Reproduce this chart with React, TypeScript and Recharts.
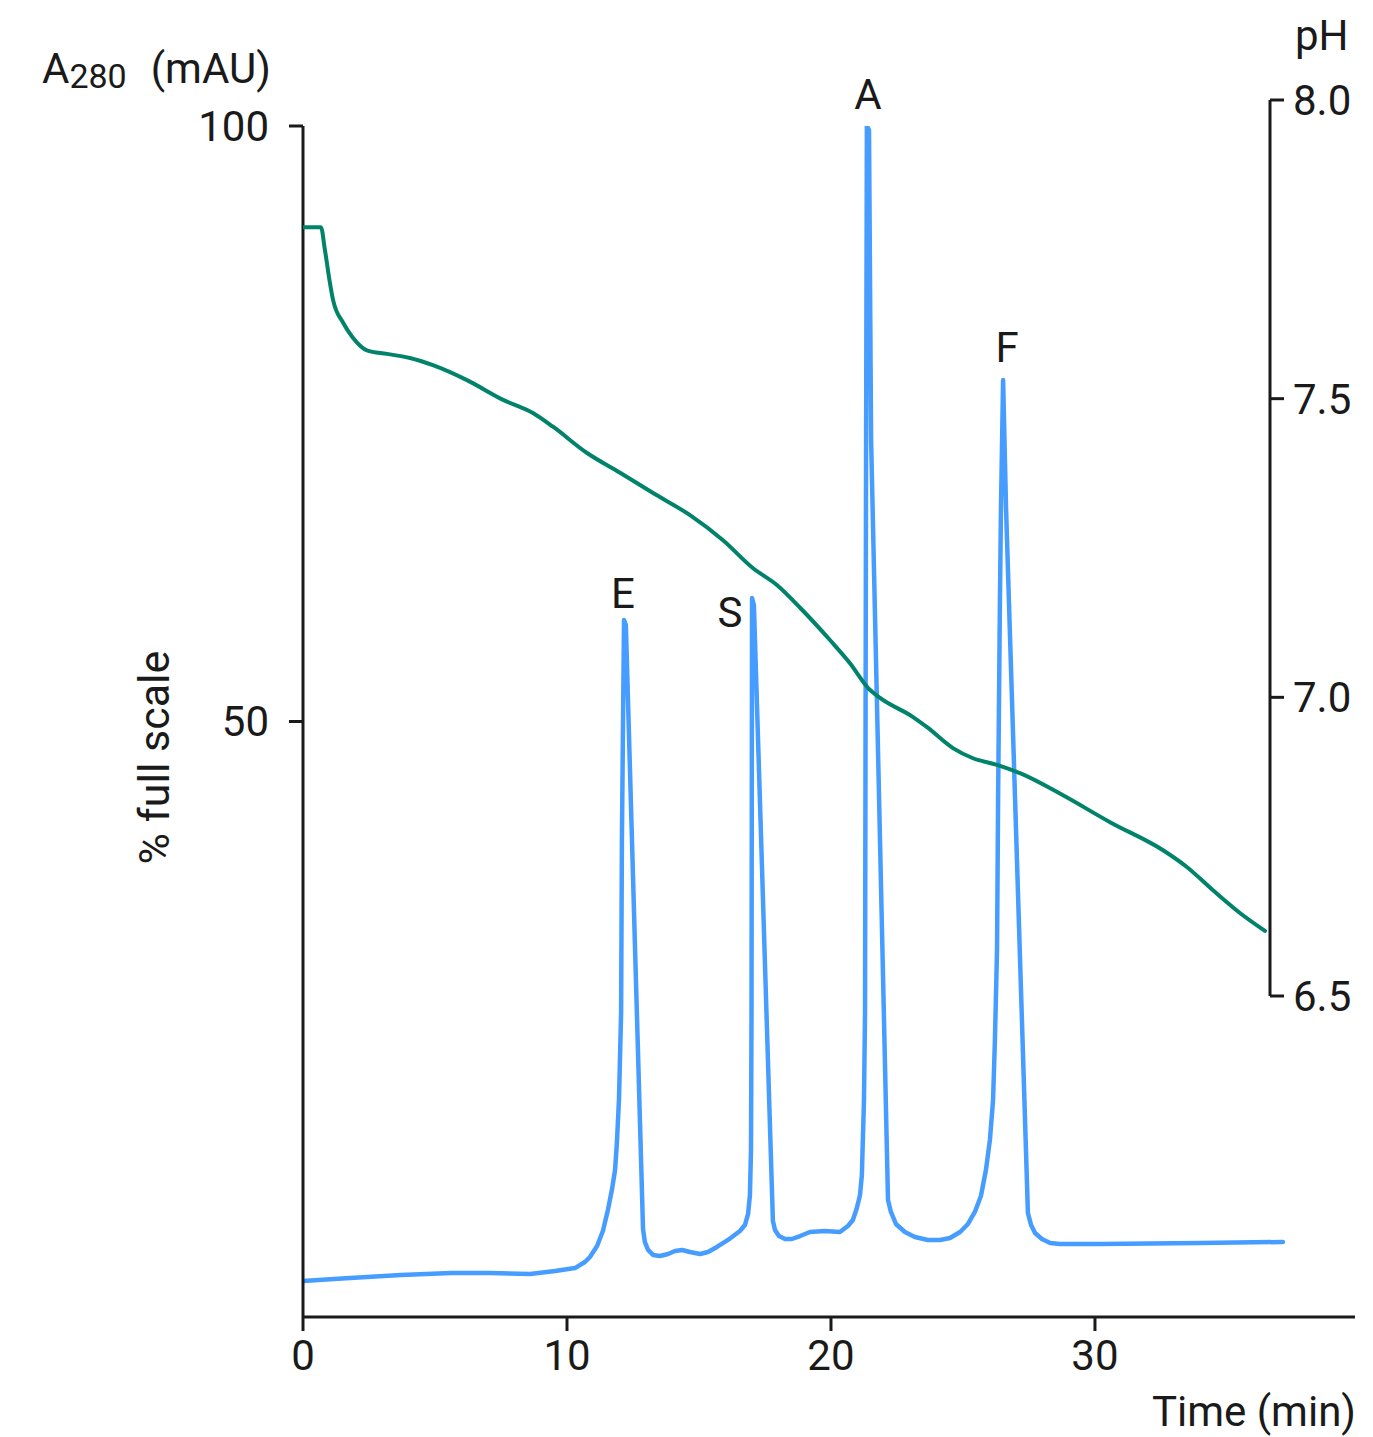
import { LineChart, Line, XAxis, YAxis, ReferenceDot, Label } from "recharts";

// A280 trace (% full scale) against time (min)
const timeMin = [
    0, 1.78, 3.71, 5.61, 7.08, 8.6, 9.55, 10.3, 10.68, 10.87, 11.14, 11.36, 11.55, 11.7, 11.82, 11.89, 11.97, 12.05,
    12.08, 12.16, 12.23, 12.88, 12.95, 13.07, 13.26, 13.52, 13.83, 14.09, 14.36, 14.66, 15.04, 15.34, 15.68, 16.1,
    16.55, 16.74, 16.86, 16.93, 16.97, 16.99, 17.01, 17.08, 17.8, 17.88, 18.03, 18.26, 18.52, 18.83, 19.2, 19.77,
    20.34, 20.64, 20.83, 20.98, 21.1, 21.17, 21.25, 21.29, 21.33, 21.36, 21.44, 21.52, 22.16, 22.27, 22.46, 22.8,
    23.18, 23.67, 24.13, 24.51, 24.89, 25.19, 25.45, 25.68, 25.87, 26.02, 26.14, 26.21, 26.29, 26.33, 26.4, 26.44,
    26.52, 26.63, 27.46, 27.58, 27.73, 27.99, 28.3, 28.67, 30.19, 33.98, 37.12,
];
const absorbance = [
    3.02, 3.27, 3.53, 3.69, 3.69, 3.61, 3.86, 4.11, 4.62, 5.04, 5.96, 7.22, 8.98, 10.66, 12.34, 14.61, 18.3, 25.52,
    40.05, 58.52, 58.1, 7.39, 6.3, 5.63, 5.21, 5.12, 5.29, 5.54, 5.63, 5.46, 5.29, 5.46, 5.88, 6.47, 7.22, 7.72, 8.65,
    10.24, 14.02, 25.52, 60.37, 59.78, 8.06, 7.3, 6.8, 6.55, 6.55, 6.8, 7.14, 7.22, 7.14, 7.64, 8.14, 9.15, 10.24,
    11.92, 18.22, 25.52, 73.64, 100, 99.66, 73.64, 9.82, 8.82, 7.81, 7.14, 6.72, 6.47, 6.47, 6.63, 7.14, 7.81, 8.82,
    10.16, 12.34, 14.86, 18.22, 23.26, 30.81, 43.41, 60.2, 68.01, 78.67, 68.01, 8.73, 7.72, 7.05, 6.55, 6.21, 6.13,
    6.13, 6.21, 6.3,
];

// pH gradient
const phTime = [
    0, 0.68, 0.83, 1.02, 1.14, 1.52, 1.89, 2.42, 3.18, 4.05, 4.92, 6.21, 7.58, 8.71, 9.47, 10.76, 12.01, 13.26, 14.66,
    15.91, 17.05, 17.95, 18.83, 19.96, 20.72, 21.4, 21.86, 23.11, 23.64, 24.62, 25.38, 26.29, 27.16, 28.79, 30.57,
    32.58, 33.48, 34.47, 35.49, 36.44,
];
const phValues = [
    7.787, 7.787, 7.749, 7.694, 7.665, 7.627, 7.602, 7.581, 7.575, 7.568, 7.556, 7.531, 7.498, 7.476, 7.453, 7.409,
    7.376, 7.342, 7.305, 7.263, 7.216, 7.188, 7.15, 7.096, 7.057, 7.016, 6.999, 6.967, 6.95, 6.915, 6.898, 6.887,
    6.873, 6.836, 6.791, 6.744, 6.716, 6.677, 6.639, 6.609,
];

// peaks
const peakNames = ["E", "S", "A", "F"];
const peakTimes = [12.16, 17.01, 21.36, 26.52];
const peakHeights = [58.52, 60.37, 100, 78.67];

const timeTicks = [0, 10, 20, 30];
const absTicks = [50, 100];
const phTicks = [6.5, 7.0, 7.5, 8.0];

const W = 1373;
const H = 1437;
const FONT = "Roboto, 'Noto Sans', sans-serif";
const INK = "#1a1a1a";
const BLUE = "#469dff";
const GREEN = "#00836a";
const FS = 42;

// label nudges relative to the peak tip (px)
const peakLabelShift: Record<string, [number, number]> = {
    E: [-1, -12],
    S: [-22, 29],
    A: [1, -17],
    F: [4, -18],
};

const axisStroke = { stroke: INK, strokeWidth: 3 };
const tickStyle = { fill: INK, fontSize: FS, fontFamily: FONT };

export default function App() {
    const absData = timeMin.map((t, i) => ({ t, a: absorbance[i] }));
    const phData = phTime.map((t, i) => ({ t, ph: phValues[i] }));

    return (
        <div style={{ position: "absolute", left: 0, top: 0, width: W, height: H, fontFamily: FONT }}>
            <div style={{ position: "absolute", left: 0, top: 0 }}>
                <LineChart width={W} height={H} data={absData} margin={{ top: 126, right: 18, bottom: 60, left: 223 }}>
                    <XAxis
                        dataKey="t"
                        type="number"
                        domain={[0, 39.85]}
                        allowDataOverflow
                        ticks={timeTicks}
                        interval={0}
                        height={60}
                        tickSize={14}
                        tickMargin={9}
                        axisLine={axisStroke}
                        tickLine={axisStroke}
                        tick={tickStyle}
                    >
                        <Label
                            content={({ viewBox }: any) => (
                                <text
                                    x={viewBox.x + viewBox.width + 1}
                                    y={viewBox.y + 109}
                                    textAnchor="end"
                                    fill={INK}
                                    fontSize={FS}
                                    fontFamily={FONT}
                                >
                                    Time (min)
                                </text>
                            )}
                        />
                    </XAxis>
                    <YAxis
                        type="number"
                        domain={[0, 100]}
                        allowDataOverflow
                        ticks={absTicks}
                        interval={0}
                        width={80}
                        tickSize={14}
                        tickMargin={20}
                        axisLine={axisStroke}
                        tickLine={axisStroke}
                        tick={tickStyle}
                    >
                        <Label
                            content={({ viewBox }: any) => (
                                <text
                                    x={viewBox.x - 54}
                                    y={viewBox.y + viewBox.height / 2 + 36}
                                    transform={`rotate(-90, ${viewBox.x - 54}, ${viewBox.y + viewBox.height / 2 + 36})`}
                                    textAnchor="middle"
                                    fill={INK}
                                    fontSize={43}
                                    fontFamily={FONT}
                                >
                                    % full scale
                                </text>
                            )}
                        />
                        <Label
                            content={({ viewBox }: any) => (
                                <text x={viewBox.x - 181} y={viewBox.y - 43} fill={INK} fontSize={FS} fontFamily={FONT}>
                                    A
                                    <tspan fontSize={34} dy={5}>
                                        280
                                    </tspan>
                                    <tspan dy={-5} dx={24}>
                                        (mAU)
                                    </tspan>
                                </text>
                            )}
                        />
                    </YAxis>
                    <Line
                        dataKey="a"
                        type="linear"
                        stroke={BLUE}
                        strokeWidth={4.5}
                        strokeLinejoin="round"
                        strokeLinecap="round"
                        dot={false}
                        activeDot={false}
                        isAnimationActive={false}
                    />
                    {peakNames.map((name, i) => (
                        <ReferenceDot
                            key={name}
                            x={peakTimes[i]}
                            y={peakHeights[i]}
                            r={0}
                            fill="none"
                            stroke="none"
                            label={{
                                content: ({ viewBox }: any) => (
                                    <text
                                        x={viewBox.x + peakLabelShift[name][0]}
                                        y={viewBox.y + peakLabelShift[name][1]}
                                        textAnchor="middle"
                                        fill={INK}
                                        fontSize={FS}
                                        fontFamily={FONT}
                                    >
                                        {name}
                                    </text>
                                ),
                            }}
                        />
                    ))}
                </LineChart>
            </div>
            <div style={{ position: "absolute", left: 0, top: 0, pointerEvents: "none" }}>
                <LineChart width={W} height={H} data={phData} margin={{ top: 100, right: 23, bottom: 441, left: 303 }}>
                    <XAxis dataKey="t" type="number" domain={[0, 36.63]} allowDataOverflow hide />
                    <YAxis
                        orientation="right"
                        type="number"
                        domain={[6.5, 8]}
                        allowDataOverflow
                        ticks={phTicks}
                        interval={0}
                        width={80}
                        tickSize={14}
                        tickMargin={9}
                        axisLine={axisStroke}
                        tickLine={axisStroke}
                        tick={tickStyle}
                        tickFormatter={(v: number) => v.toFixed(1)}
                    >
                        <Label
                            content={({ viewBox }: any) => (
                                <text x={viewBox.x + 25} y={viewBox.y - 50} fill={INK} fontSize={FS} fontFamily={FONT}>
                                    pH
                                </text>
                            )}
                        />
                    </YAxis>
                    <Line
                        dataKey="ph"
                        type="monotone"
                        stroke={GREEN}
                        strokeWidth={4}
                        strokeLinecap="round"
                        dot={false}
                        activeDot={false}
                        isAnimationActive={false}
                    />
                </LineChart>
            </div>
        </div>
    );
}
